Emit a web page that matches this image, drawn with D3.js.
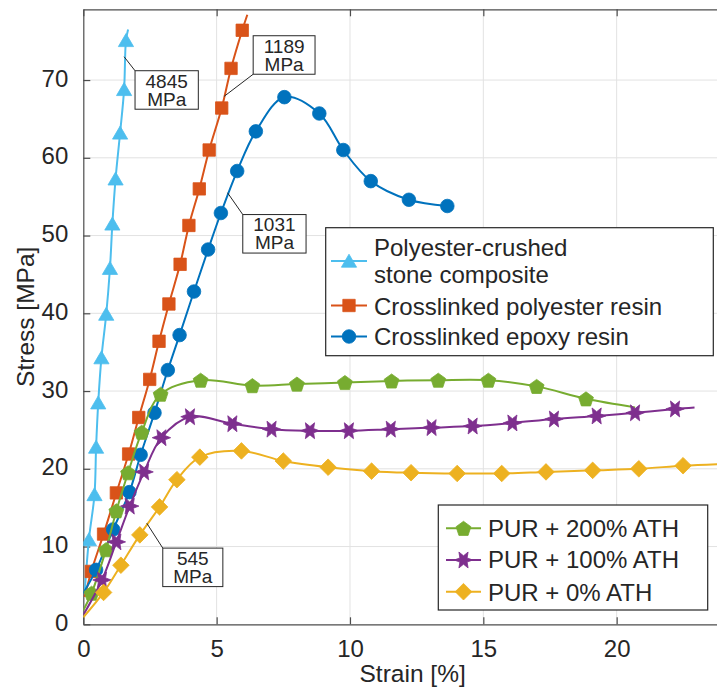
<!DOCTYPE html>
<html>
<head>
<meta charset="utf-8">
<script src="https://cdn.jsdelivr.net/npm/d3@7"></script>
<style>
  body { margin: 0; background: #fff; }
  text { font-family: "Liberation Sans", Arial, Helvetica, sans-serif; fill: #262626; }
</style>
</head>
<body>
<div id="chartArea"></div>
<script>
const svgWidth = 717;
const svgHeight = 691;

// [strain %, stress MPa, has marker]
const stonePts = [[0.05, 4.0, 0], [0.21, 10.9, 1], [0.42, 16.7, 1], [0.48, 22.8, 1], [0.56, 28.5, 1],
  [0.68, 34.3, 1], [0.86, 39.9, 1], [1.0, 45.8, 1], [1.09, 51.5, 1], [1.21, 57.3, 1],
  [1.38, 63.2, 1], [1.53, 68.8, 1], [1.60, 75.1, 1], [1.68, 76.5, 0]];
const polyesterPts = [[0.05, 3.5, 0], [0.30, 6.8, 1], [0.76, 11.6, 1], [1.24, 16.9, 1], [1.70, 21.9, 1],
  [2.08, 26.6, 1], [2.49, 31.5, 1], [2.84, 36.4, 1], [3.21, 41.2, 1], [3.63, 46.3, 1],
  [3.96, 51.3, 1], [4.35, 56.0, 1], [4.72, 61.0, 1], [5.19, 66.4, 1], [5.54, 71.5, 1],
  [5.96, 76.4, 1], [6.15, 78.4, 0]];
const epoxyPts = [[0, 4.0, 0], [0.48, 7.0, 1], [1.12, 12.2, 1], [1.73, 17.0, 1], [2.15, 21.8, 1],
  [2.67, 27.2, 1], [3.17, 32.7, 1], [3.61, 37.2, 1], [4.15, 42.8, 1], [4.68, 48.2, 1],
  [5.16, 52.9, 1], [5.77, 58.3, 1], [6.47, 63.4, 1], [7.54, 67.8, 1], [8.85, 65.7, 1],
  [9.75, 61.0, 1], [10.78, 57.0, 1], [12.21, 54.6, 1], [13.65, 53.8, 1]];
const pur200Pts = [[0, 1.8, 0], [0.31, 4.0, 1], [0.85, 9.6, 1], [1.24, 14.6, 1], [1.68, 19.5, 1],
  [2.19, 24.7, 1], [2.90, 29.6, 1], [4.40, 31.4, 1], [6.34, 30.7, 1], [8.01, 30.9, 1],
  [9.81, 31.1, 1], [11.56, 31.3, 1], [13.31, 31.4, 1], [15.19, 31.4, 1], [17.0, 30.6, 1],
  [18.85, 29.0, 1], [20.69, 27.9, 0]];
const pur100Pts = [[0, 1.2, 0], [0.70, 5.7, 1], [1.24, 10.6, 1], [1.74, 15.2, 1], [2.28, 19.6, 1],
  [2.93, 24.0, 1], [4.0, 26.7, 1], [5.59, 25.8, 1], [7.06, 25.1, 1], [8.50, 24.9, 1],
  [9.96, 24.9, 1], [11.53, 25.1, 1], [13.06, 25.3, 1], [14.60, 25.5, 1], [16.09, 25.9, 1],
  [17.65, 26.4, 1], [19.25, 26.8, 1], [20.69, 27.2, 1], [22.19, 27.7, 1], [22.92, 27.9, 0]];
const pur0Pts = [[0, 0.9, 0], [0.76, 4.1, 1], [1.41, 7.6, 1], [2.12, 11.5, 1], [2.86, 15.1, 1],
  [3.51, 18.6, 1], [4.37, 21.5, 1], [5.93, 22.3, 1], [7.50, 21.0, 1], [9.18, 20.2, 1],
  [10.81, 19.7, 1], [12.29, 19.5, 1], [14.02, 19.4, 1], [15.69, 19.4, 1], [17.35, 19.6, 1],
  [19.10, 19.8, 1], [20.83, 20.0, 1], [22.49, 20.4, 1], [23.8, 20.6, 0]];

const xTicks = [0, 5, 10, 15, 20];
const yTicks = [0, 10, 20, 30, 40, 50, 60, 70];

// modulus labels: leader start and box top-left, in data units
const annotations = [
  { lines: ['4845', 'MPa'], from: [1.53, 73.0], box: [1.94, 71.2] },
  { lines: ['1189', 'MPa'], from: [5.28, 67.9], box: [6.37, 75.7] },
  { lines: ['1031', 'MPa'], from: [5.41, 55.5], box: [5.98, 52.7] },
  { lines: ['545', 'MPa'], from: [2.38, 13.0], box: [2.98, 9.8] }
];

const series = [
  { name: ['Polyester-crushed', 'stone composite'], color: '#4DBEEE', shape: 'triangle', pts: stonePts },
  { name: ['Crosslinked polyester resin'], color: '#D95319', shape: 'square', pts: polyesterPts },
  { name: ['Crosslinked epoxy resin'], color: '#0072BD', shape: 'circle', pts: epoxyPts },
  { name: ['PUR + 200% ATH'], color: '#77AC30', shape: 'pentagon', pts: pur200Pts },
  { name: ['PUR + 100% ATH'], color: '#7E2F8E', shape: 'hexagram', pts: pur100Pts },
  { name: ['PUR + 0% ATH'], color: '#EDB120', shape: 'diamond', pts: pur0Pts }
];

const x = d3.scaleLinear().domain([0, 25]).range([83.3, 750]);
const y = d3.scaleLinear().domain([0, 79.1]).range([624.3, 9.3]);

const canvas = d3.select('#chartArea')
  .append('svg')
  .attr('width', svgWidth)
  .attr('height', svgHeight);

canvas.append('defs').append('clipPath')
  .attr('id', 'plotClip')
  .append('rect')
  .attr('x', x(0))
  .attr('y', y(79.1))
  .attr('width', x(25) - x(0))
  .attr('height', y(0) - y(79.1));

// grid
canvas.append('g')
  .selectAll('line')
  .data(xTicks.slice(1))
  .join('line')
  .attr('x1', d => x(d)).attr('x2', d => x(d))
  .attr('y1', y(0)).attr('y2', y(79.1))
  .attr('stroke', '#e2e2e2');

canvas.append('g')
  .selectAll('line')
  .data(yTicks.slice(1))
  .join('line')
  .attr('x1', x(0)).attr('x2', x(25))
  .attr('y1', d => y(d)).attr('y2', d => y(d))
  .attr('stroke', '#e2e2e2');

// axes, MATLAB style ticks pointing inward
const xAxis = canvas.append('g')
  .attr('transform', `translate(0,${y(0)})`)
  .call(d3.axisBottom(x).tickValues(xTicks).tickSizeInner(-7).tickSizeOuter(0).tickPadding(12));
const xAxisTop = canvas.append('g')
  .attr('transform', `translate(0,${y(79.1)})`)
  .call(d3.axisTop(x).tickValues(xTicks).tickSizeInner(-7).tickSizeOuter(0).tickFormat(''));
const yAxis = canvas.append('g')
  .attr('transform', `translate(${x(0)},0)`)
  .call(d3.axisLeft(y).tickValues(yTicks).tickSizeInner(-7).tickSizeOuter(0).tickPadding(15));

[xAxis, xAxisTop, yAxis].forEach(g => {
  g.select('.domain').attr('stroke', '#4d4d4d').attr('stroke-width', 1.2);
  g.selectAll('.tick line').attr('stroke', '#4d4d4d').attr('stroke-width', 1.2);
  g.selectAll('.tick text')
    .attr('fill', '#262626')
    .style('font-family', '"Liberation Sans", Arial, sans-serif')
    .style('font-size', '24px');
});
xAxis.selectAll('.tick text').attr('dy', '0.86em');
yAxis.selectAll('.tick text').attr('dy', '0.25em');

// axis labels
canvas.append('text')
  .attr('x', (x(0) + x(25)) / 2 - 4)
  .attr('y', 682)
  .attr('text-anchor', 'middle')
  .style('font-size', '24.5px')
  .text('Strain [%]');

canvas.append('text')
  .attr('transform', `translate(34,${(y(0) + y(79.1)) / 2}) rotate(-90)`)
  .attr('text-anchor', 'middle')
  .style('font-size', '24.5px')
  .text('Stress [MPa]');

// marker shapes
function markerPath(shape, s) {
  const p = [];
  if (shape === 'triangle') {
    return `M0,${-6.8 * s}L${7.6 * s},${6.2 * s}L${-7.6 * s},${6.2 * s}Z`;
  }
  if (shape === 'square') {
    const h = 6.2 * s;
    return `M${-h},${-h}H${h}V${h}H${-h}Z`;
  }
  if (shape === 'circle') {
    const r = 6.8 * s;
    return `M${r},0A${r},${r},0,1,1,${-r},0A${r},${r},0,1,1,${r},0Z`;
  }
  if (shape === 'diamond') {
    const h = 8.3 * s;
    return `M0,${-h}L${h},0L0,${h}L${-h},0Z`;
  }
  if (shape === 'pentagon') {
    for (let i = 0; i < 5; i++) {
      const a = -Math.PI / 2 + i * 2 * Math.PI / 5;
      p.push([Math.cos(a) * 7.8 * s, Math.sin(a) * 7.8 * s + 0.8 * s]);
    }
  }
  if (shape === 'hexagram') {
    for (let i = 0; i < 12; i++) {
      const a = i * Math.PI / 6;
      const r = (i % 2 === 0 ? 9.2 : 4.2) * s;
      p.push([Math.cos(a) * r, Math.sin(a) * r]);
    }
  }
  return 'M' + p.map(d => d.join(',')).join('L') + 'Z';
}

// curves
const line = d3.line()
  .x(d => x(d[0]))
  .y(d => y(d[1]))
  .curve(d3.curveCatmullRom.alpha(0.5));

const plot = canvas.append('g').attr('clip-path', 'url(#plotClip)');

series.forEach(sr => {
  plot.append('path')
    .datum(sr.pts)
    .attr('d', line)
    .attr('fill', 'none')
    .attr('stroke', sr.color)
    .attr('stroke-width', 2);

  plot.append('g')
    .selectAll('path')
    .data(sr.pts.filter(d => d[2] === 1))
    .join('path')
    .attr('transform', d => `translate(${x(d[0])},${y(d[1])})`)
    .attr('d', markerPath(sr.shape, 1))
    .attr('fill', sr.color)
    .attr('stroke', sr.color)
    .attr('stroke-width', 0.8);
});

// modulus annotations (one text block, two lines)
const boxH = 38.5;
annotations.forEach(a => {
  const g = canvas.append('g');
  const bx = x(a.box[0]);
  const by = y(a.box[1]);
  const txt = g.append('text')
    .attr('y', by + 16.8)
    .attr('text-anchor', 'middle')
    .style('font-size', '19px');
  const spans = a.lines.map((t, i) => txt.append('tspan')
    .attr('dy', i === 0 ? 0 : 18)
    .text(t));
  const w = d3.max(spans, t => t.node().getComputedTextLength()) + 21;
  spans.forEach(t => t.attr('x', bx + w / 2));
  g.insert('rect', 'text')
    .attr('x', bx).attr('y', by)
    .attr('width', w).attr('height', boxH)
    .attr('fill', '#fff')
    .attr('stroke', '#262626')
    .attr('stroke-width', 1);
  const fy = y(a.from[1]);
  g.insert('line', 'rect')
    .attr('x1', x(a.from[0])).attr('y1', fy)
    .attr('x2', bx)
    .attr('y2', fy < by ? by : by + boxH)
    .attr('stroke', '#262626')
    .attr('stroke-width', 1);
});

// legends
function drawLegend(box, items, sampleX, textX, rows) {
  const g = canvas.append('g');
  g.append('rect')
    .attr('x', box[0]).attr('y', box[1])
    .attr('width', box[2] - box[0]).attr('height', box[3] - box[1])
    .attr('fill', '#fff')
    .attr('stroke', '#262626')
    .attr('stroke-width', 1.2);
  items.forEach((sr, i) => {
    const r = rows[i];
    g.append('line')
      .attr('x1', sampleX[0]).attr('x2', sampleX[1])
      .attr('y1', r.marker).attr('y2', r.marker)
      .attr('stroke', sr.color)
      .attr('stroke-width', 2);
    g.append('path')
      .attr('transform', `translate(${(sampleX[0] + sampleX[1]) / 2},${r.marker})`)
      .attr('d', markerPath(sr.shape, 1))
      .attr('fill', sr.color)
      .attr('stroke', sr.color)
      .attr('stroke-width', 0.8);
    sr.name.forEach((t, k) => {
      g.append('text')
        .attr('x', textX)
        .attr('y', r.base[k])
        .style('font-size', '24px')
        .text(t);
    });
  });
}

drawLegend([325.7, 227.7, 713.3, 355.7], series.slice(0, 3), [331, 367], 374,
  [{ marker: 261, base: [256, 283.3] }, { marker: 305.5, base: [315] }, { marker: 336.5, base: [345] }]);
drawLegend([438.3, 505, 707.7, 610], series.slice(3), [446, 481], 488,
  [{ marker: 528.3, base: [536.7] }, { marker: 560, base: [568.3] }, { marker: 591.7, base: [600.7] }]);
</script>
</body>
</html>
